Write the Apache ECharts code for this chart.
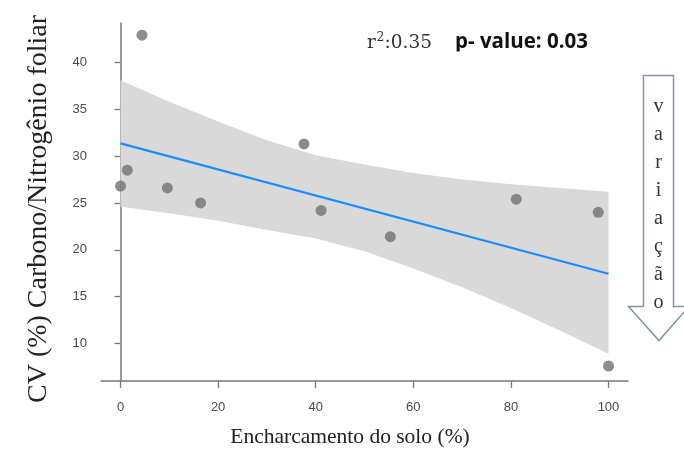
<!DOCTYPE html>
<html>
<head>
<meta charset="utf-8">
<script src="https://cdn.jsdelivr.net/npm/echarts@6/dist/echarts.min.js"></script>
<style>html,body{margin:0;padding:0;background:#fff}#c{width:684px;height:452px}</style>
</head>
<body>
<div id="c"></div>
<script>
// Observed points
var pointX = [0, 1.4, 4.4, 9.6, 16.4, 37.6, 41.1, 55.3, 81.1, 97.9, 100];
var pointY = [26.8, 28.5, 42.9, 26.6, 25.0, 31.3, 24.2, 21.4, 25.4, 24.0, 7.6];
// Fitted line (read at ends)
var fitX = [0, 100];
var fitY = [31.35, 17.45];
// Confidence band
var bandX = [0, 10, 20, 30, 40, 50, 60, 70, 80, 90, 100];
var bandLower = [24.6, 23.9, 23.1, 22.1, 21.2, 19.85, 18.0, 16.0, 13.8, 11.4, 8.9];
var bandUpper = [38.1, 35.8, 33.7, 31.7, 30.1, 29.1, 28.2, 27.5, 27.0, 26.6, 26.2];
// Tick labels
var xTicks = [0, 20, 40, 60, 80, 100];
var yTicks = [10, 15, 20, 25, 30, 35, 40];

var chart = echarts.init(document.getElementById('c'), null, {renderer: 'canvas'});

var lineStyleAxis = {color: '#7a7a7a', width: 1.5};
var labelStyle = {color: '#4a4a4a', fontFamily: 'Liberation Sans Narrow, Liberation Sans, Arial, sans-serif', fontSize: 13};

var option = {
  animation: false,
  backgroundColor: '#ffffff',
  grid: {left: 101, right: 56, top: 23, bottom: 71, containLabel: false},
  xAxis: {
    type: 'value', min: -4, max: 104,
    axisLine: {show: true, lineStyle: lineStyleAxis},
    axisTick: {show: true, length: 7, lineStyle: {color: '#7a7a7a', width: 1.3}, customValues: xTicks},
    axisLabel: Object.assign({}, labelStyle, {customValues: xTicks, margin: 20}),
    splitLine: {show: false}
  },
  yAxis: {
    type: 'value', min: 6.0, max: 44.2,
    axisLine: {show: true, lineStyle: lineStyleAxis},
    axisTick: {show: true, length: 6, lineStyle: {color: '#7a7a7a', width: 1.3}, customValues: yTicks},
    axisLabel: Object.assign({}, labelStyle, {customValues: yTicks, margin: 14}),
    splitLine: {show: false}
  },
  series: [
    {
      type: 'custom', silent: true, z: 1,
      data: [[0]],
      renderItem: function (params, api) {
        var pts = [];
        for (var i = 0; i < bandX.length; i++) pts.push(api.coord([bandX[i], bandUpper[i]]));
        for (var j = bandX.length - 1; j >= 0; j--) pts.push(api.coord([bandX[j], bandLower[j]]));
        return {type: 'polygon', shape: {points: pts}, style: {fill: '#d9d9d9'}};
      }
    },
    {
      type: 'line', symbol: 'none', silent: true,
      lineStyle: {color: '#1a8cff', width: 2.2},
      data: fitX.map(function (x, i) { return [x, fitY[i]]; }),
      z: 2
    },
    {
      type: 'scatter', symbol: 'circle', symbolSize: 11, silent: true,
      itemStyle: {color: '#707070'},
      data: pointX.map(function (x, i) { return [x, pointY[i]]; }),
      z: 3
    }
  ],
  graphic: [
    {
      type: 'text', x: 38.5, y: 209, rotation: Math.PI / 2,
      style: {text: 'CV (%) Carbono/Nitrogênio foliar', font: '28px "Liberation Serif", serif', fill: '#222', align: 'center', verticalAlign: 'middle'}
    },
    {
      type: 'text', x: 350, y: 437,
      style: {text: 'Encharcamento do solo (%)', font: '21.5px "Liberation Serif", serif', fill: '#222', align: 'center', verticalAlign: 'middle'}
    },
    {
      type: 'text', x: 367, y: 43.5,
      style: {text: 'r', font: '18.5px "DejaVu Serif", serif', fill: '#333', align: 'left', verticalAlign: 'middle'}
    },
    {
      type: 'text', x: 376.5, y: 38,
      style: {text: '2', font: '12.5px "DejaVu Serif", serif', fill: '#333', align: 'left', verticalAlign: 'middle'}
    },
    {
      type: 'text', x: 384.5, y: 43.5,
      style: {text: ':0.35', font: '18.5px "DejaVu Serif", serif', fill: '#333', align: 'left', verticalAlign: 'middle'}
    },
    {
      type: 'text', x: 455, y: 42.5,
      style: {text: 'p- value: 0.03', font: 'bold 20.5px "Open Sans", Lato, sans-serif', fill: '#111', align: 'left', verticalAlign: 'middle'}
    },
    {
      type: 'rect', shape: {x: 450, y: 51.5, width: 150, height: 8}, style: {fill: '#fff'}, z: 100
    },
    {
      type: 'polygon',
      shape: {points: [[643.5, 75.5], [673.5, 75.5], [673.5, 306.5], [689, 306.5], [659, 340.5], [628.5, 306.5], [643.5, 306.5]]},
      style: {fill: '#fff', stroke: '#8096b0', lineWidth: 1.5}
    },
    {
      type: 'text', x: 658.5, y: 93,
      style: {text: 'v\na\nr\ni\na\nç\nã\no', font: '20px "Liberation Serif", serif', fill: '#333', align: 'center', verticalAlign: 'top', lineHeight: 27.9}
    }
  ]
};
chart.setOption(option);
</script>
</body>
</html>
